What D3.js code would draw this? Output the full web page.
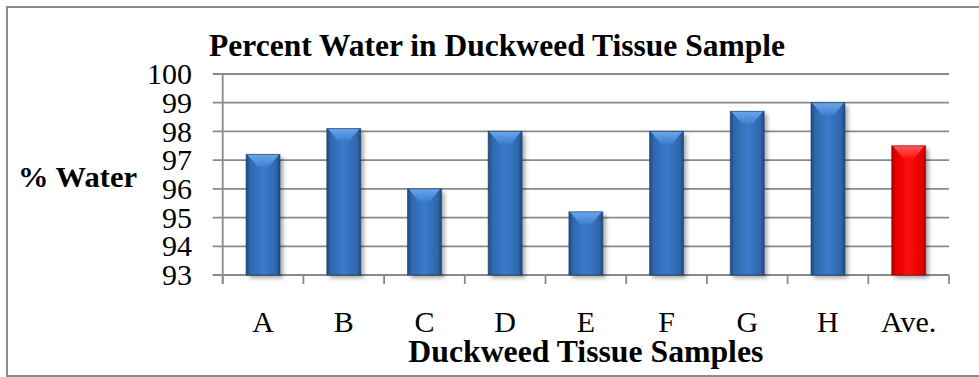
<!DOCTYPE html>
<html>
<head>
<meta charset="utf-8">
<script src="https://cdn.jsdelivr.net/npm/d3@7"></script>
<style>
  html, body { margin: 0; padding: 0; background: #fff; }
  svg { display: block; }
</style>
</head>
<body>
<svg id="chart" width="979" height="377"></svg>
<script>
// Percent water measured in each duckweed tissue sample, plus their average
const categories = ["A", "B", "C", "D", "E", "F", "G", "H", "Ave."];
const waterPercent = [97.2, 98.1, 96.0, 98.0, 95.2, 98.0, 98.7, 99.0, 97.5];
const yTicks = [93, 94, 95, 96, 97, 98, 99, 100];
const chartTitle = "Percent Water in Duckweed Tissue Sample";
const xTitle = "Duckweed Tissue Samples";
const yTitle = "% Water";

const SERIF = "'Liberation Serif', 'Times New Roman', Tinos, 'DejaVu Serif', serif";

const svg = d3.select("#chart");
const plot = { left: 222.7, right: 949, top: 74, bottom: 275 };

// outer chart frame (right edge runs past the page)
svg.append("rect")
  .attr("x", 7).attr("y", 7)
  .attr("width", 990).attr("height", 369)
  .attr("fill", "#fff").attr("stroke", "#8c8c8c").attr("stroke-width", 2);

const x = d3.scaleBand()
  .domain(categories)
  .range([plot.left, plot.right])
  .paddingInner(0.58)
  .paddingOuter(0.29);

const y = d3.scaleLinear()
  .domain([93, 100])
  .range([plot.bottom, plot.top]);

const defs = svg.append("defs");

function barGradients(id, edge, mid, light) {
  const body = defs.append("linearGradient").attr("id", id + "-body")
    .attr("x1", 0).attr("x2", 1).attr("y1", 0).attr("y2", 0);
  body.append("stop").attr("offset", "0%").attr("stop-color", edge);
  body.append("stop").attr("offset", "12%").attr("stop-color", mid);
  body.append("stop").attr("offset", "50%").attr("stop-color", light);
  body.append("stop").attr("offset", "88%").attr("stop-color", mid);
  body.append("stop").attr("offset", "100%").attr("stop-color", edge);
}
barGradients("blue", "#1d4a80", "#2f68ad", "#3a7acb");
barGradients("red", "#b00000", "#e80000", "#ff0a0a");

const cap = defs.append("linearGradient").attr("id", "bevel-blue")
  .attr("x1", 0).attr("x2", 0).attr("y1", 0).attr("y2", 1);
cap.append("stop").attr("offset", "0%").attr("stop-color", "#6aa6ea");
cap.append("stop").attr("offset", "100%").attr("stop-color", "#3f82d2");
const capR = defs.append("linearGradient").attr("id", "bevel-red")
  .attr("x1", 0).attr("x2", 0).attr("y1", 0).attr("y2", 1);
capR.append("stop").attr("offset", "0%").attr("stop-color", "#ff5a5a");
capR.append("stop").attr("offset", "100%").attr("stop-color", "#ff1a1a");

const shadow = defs.append("filter").attr("id", "shadow")
  .attr("x", "-30%").attr("y", "-10%").attr("width", "170%").attr("height", "130%");
shadow.append("feDropShadow")
  .attr("dx", 3).attr("dy", 3).attr("stdDeviation", 2.2)
  .attr("flood-color", "#000").attr("flood-opacity", 0.35);

// horizontal gridlines with outward ticks
svg.append("g").selectAll("line").data(yTicks).join("line")
  .attr("x1", plot.left - 10).attr("x2", plot.right)
  .attr("y1", d => y(d)).attr("y2", d => y(d))
  .attr("stroke", "#8a8a8a").attr("stroke-width", 1.8);

// vertical axis line
svg.append("line")
  .attr("x1", plot.left).attr("x2", plot.left)
  .attr("y1", plot.top).attr("y2", plot.bottom + 9)
  .attr("stroke", "#8a8a8a").attr("stroke-width", 1.8);

// category boundary ticks
const tickXs = d3.range(categories.length + 1).map(i => plot.left + i * x.step());
svg.append("g").selectAll("line").data(tickXs).join("line")
  .attr("x1", d => d).attr("x2", d => d)
  .attr("y1", plot.bottom).attr("y2", plot.bottom + 9)
  .attr("stroke", "#8a8a8a").attr("stroke-width", 1.8);

// bars
const bw = x.bandwidth();
svg.append("g").selectAll("g").data(categories).join("g").each(function (c, i) {
  const g = d3.select(this);
  const v = waterPercent[i];
  const kind = c === "Ave." ? "red" : "blue";
  const x0 = x(c), top = y(v), bot = y(93);
  const bevel = 12, inset = 11;
  g.append("rect")
    .attr("x", x0).attr("y", top)
    .attr("width", bw).attr("height", bot - top)
    .attr("fill", `url(#${kind}-body)`)
    .attr("filter", "url(#shadow)");
  // beveled top face
  g.append("polygon")
    .attr("points", [[x0 + 1, top], [x0 + bw - 1, top], [x0 + bw - inset, top + bevel], [x0 + inset, top + bevel]].join(" "))
    .attr("fill", `url(#bevel-${kind})`);
  g.append("rect")
    .attr("x", x0).attr("y", top)
    .attr("width", bw).attr("height", bot - top)
    .attr("fill", "none")
    .attr("stroke", kind === "red" ? "#8a0000" : "#173c66")
    .attr("stroke-opacity", 0.6).attr("stroke-width", 1);
});

function label(sel) {
  return sel.attr("font-family", SERIF).attr("fill", "#000");
}

// y tick labels
svg.append("g").selectAll("text").data(yTicks).join("text")
  .call(label)
  .attr("x", 192).attr("y", d => y(d))
  .attr("dy", "0.34em")
  .attr("text-anchor", "end")
  .attr("font-size", 30)
  .text(d => d);

// category labels
svg.append("g").selectAll("text").data(categories).join("text")
  .call(label)
  .attr("x", d => x(d) + bw / 2).attr("y", 332)
  .attr("text-anchor", "middle")
  .attr("font-size", 30)
  .text(d => d);

// titles
svg.append("text").call(label)
  .attr("x", 497).attr("y", 56)
  .attr("text-anchor", "middle")
  .attr("font-size", 31).attr("font-weight", "bold")
  .attr("textLength", 576).attr("lengthAdjust", "spacingAndGlyphs")
  .text(chartTitle);

svg.append("text").call(label)
  .attr("x", (plot.left + plot.right) / 2).attr("y", 362)
  .attr("text-anchor", "middle")
  .attr("font-size", 31).attr("font-weight", "bold")
  .attr("textLength", 355).attr("lengthAdjust", "spacingAndGlyphs")
  .text(xTitle);

svg.append("text").call(label)
  .attr("x", 18).attr("y", 187)
  .attr("font-size", 30).attr("font-weight", "bold")
  .attr("textLength", 119).attr("lengthAdjust", "spacingAndGlyphs")
  .text(yTitle);
</script>
</body>
</html>
